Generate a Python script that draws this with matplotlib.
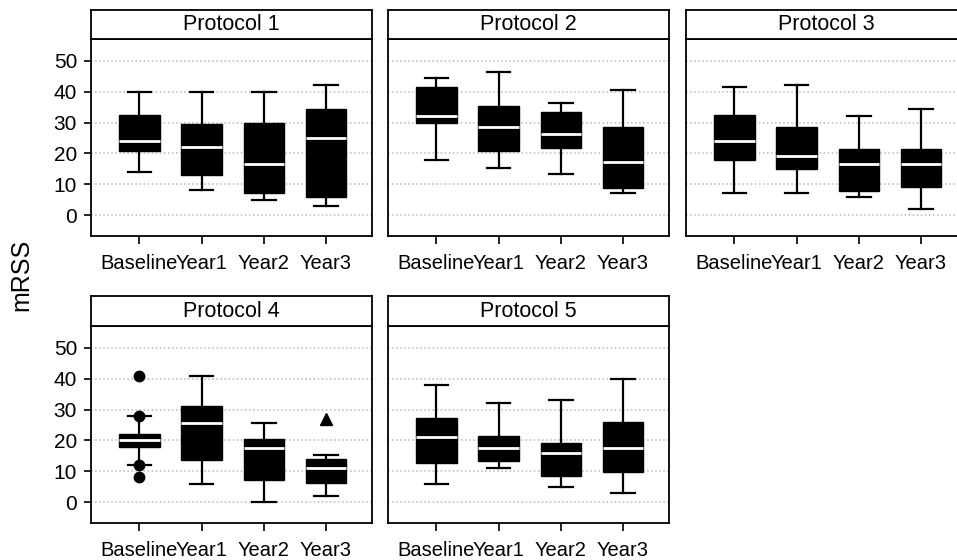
import numpy as np
import matplotlib
matplotlib.use("Agg")
import matplotlib.pyplot as plt

plt.rcParams['font.family'] = ['Liberation Sans', 'DejaVu Sans']

timepoints = ["Baseline", "Year1", "Year2", "Year3"]
protocols = ["Protocol 1", "Protocol 2", "Protocol 3", "Protocol 4", "Protocol 5"]

# whisker low, Q1, median, Q3, whisker high for each timepoint
p1_low = [14, 8, 5, 3]
p1_q1 = [20.8, 13.1, 7.3, 5.7]
p1_med = [24, 22, 16.5, 25]
p1_q3 = [32.3, 29.4, 29.8, 34.4]
p1_high = [40, 40, 40, 42.3]

p2_low = [18, 15.2, 13.3, 7]
p2_q1 = [30, 20.8, 21.9, 8.7]
p2_med = [32.2, 28.6, 26.2, 17.2]
p2_q3 = [41.6, 35.4, 33.4, 28.5]
p2_high = [44.4, 46.4, 36.2, 40.4]

p3_low = [7, 7, 6, 2]
p3_q1 = [17.8, 14.9, 7.7, 9]
p3_med = [24, 19.2, 16.5, 16.4]
p3_q3 = [32.3, 28.4, 21.3, 21.3]
p3_high = [41.4, 42.3, 32.2, 34.4]

p4_low = [12, 6, 0, 2]
p4_q1 = [18, 13.5, 7.2, 6.2]
p4_med = [20, 25.7, 17.4, 11]
p4_q3 = [22, 31.1, 20.3, 13.9]
p4_high = [28, 41, 25.7, 15.2]

p5_low = [6, 11, 5, 3]
p5_q1 = [12.7, 13.3, 8.6, 9.6]
p5_med = [21.2, 17.4, 16, 17.4]
p5_q3 = [27.2, 21.3, 19.1, 26]
p5_high = [38, 32, 33, 40]

# outliers in Protocol 4
p4_circle_outliers = [41, 28, 12, 8]   # Baseline
p4_triangle_outliers = [27]            # Year3

data = [
    (p1_low, p1_q1, p1_med, p1_q3, p1_high),
    (p2_low, p2_q1, p2_med, p2_q3, p2_high),
    (p3_low, p3_q1, p3_med, p3_q3, p3_high),
    (p4_low, p4_q1, p4_med, p4_q3, p4_high),
    (p5_low, p5_q1, p5_med, p5_q3, p5_high),
]

W, H = 957, 560
fig = plt.figure(figsize=(W / 100, H / 100), dpi=100)

col_left = [91, 388, 686]
panel_w = 281
rows = [(39, 236, 10), (326, 523, 296)]  # axes top, axes bottom, strip top
positions = [1, 2, 3, 4]

for i, (low, q1, med, q3, high) in enumerate(data):
    r, c = divmod(i, 3)
    atop, abot, stop = rows[r]
    left = col_left[c]
    ax = fig.add_axes([left / W, 1 - abot / H, panel_w / W, (abot - atop) / H])
    sax = fig.add_axes([left / W, 1 - atop / H, panel_w / W, (atop - stop) / H])

    stats = []
    for j in range(4):
        stats.append(dict(whislo=low[j], q1=q1[j], med=med[j], q3=q3[j],
                          whishi=high[j], fliers=[]))
    ax.bxp(stats, positions=positions, widths=0.65, capwidths=0.38,
           patch_artist=True, showfliers=False,
           boxprops=dict(facecolor='black', edgecolor='black', linewidth=1),
           medianprops=dict(color='white', linewidth=2),
           whiskerprops=dict(color='black', linewidth=1.6),
           capprops=dict(color='black', linewidth=1.6), zorder=3)

    if i == 3:
        ax.plot([1] * len(p4_circle_outliers), p4_circle_outliers, 'o',
                color='black', markersize=7.5, zorder=4)
        ax.plot([4] * len(p4_triangle_outliers), p4_triangle_outliers, '^',
                color='black', markersize=8, zorder=4)

    ax.set_ylim(-6.8, 57.1)
    ax.set_xlim(0.22, 4.74)
    ax.set_yticks([0, 10, 20, 30, 40, 50])
    for yv in [0, 10, 20, 30, 40, 50]:
        ax.axhline(yv, color='#b8b8b8', linestyle=':', linewidth=1.1, zorder=1)
    ax.set_xticks(positions)
    ax.set_xticklabels(timepoints, fontsize=14.5)
    ax.tick_params(axis='x', length=6, width=1.2, pad=7)
    ax.tick_params(axis='y', length=5, width=1.2, labelsize=15, pad=5)
    if c != 0:
        ax.tick_params(axis='y', left=False, labelleft=False)
    for sp in ax.spines.values():
        sp.set_linewidth(1.3)

    sax.set_xticks([])
    sax.set_yticks([])
    for sp in sax.spines.values():
        sp.set_linewidth(1.3)
    sax.text(0.5, 0.5, protocols[i], ha='center', va='center', fontsize=15.5,
             transform=sax.transAxes)

fig.text(21 / W, 1 - 275 / H, "mRSS", rotation=90, ha='center', va='center',
         fontsize=18)

fig.savefig("out.png", dpi=100)
